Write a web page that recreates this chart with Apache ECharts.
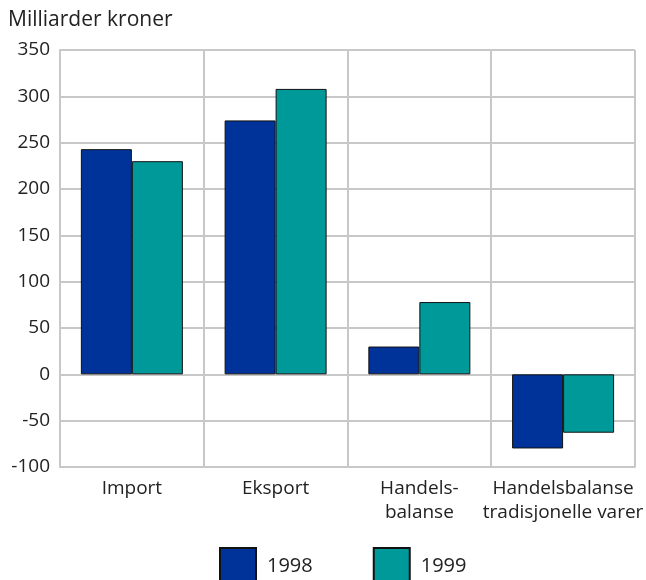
<!DOCTYPE html>
<html>
<head>
<meta charset="utf-8">
<script src="https://cdn.jsdelivr.net/npm/echarts@6/dist/echarts.min.js"></script>
<style>
html,body{margin:0;padding:0;background:#fff;}
#c{width:646px;height:580px;}
</style>
</head>
<body>
<div id="c"></div>
<script>
const categories = ['Import', 'Eksport', 'Handels-\nbalanse', 'Handelsbalanse\ntradisjonelle varer'];
const values1998 = [243, 274, 30, -80];
const values1999 = [230, 308, 78, -63];
const seriesNames = ['1998', '1999'];
const yTicks = { min: -100, max: 350, interval: 50 };
const yTitle = 'Milliarder kroner';

const font = '"Open Sans", "Noto Sans", sans-serif';
const gridColor = '#c8c8c8';
const chart = echarts.init(document.getElementById('c'), null, { renderer: 'canvas' });
chart.setOption({
  animation: false,
  backgroundColor: '#ffffff',
  textStyle: { fontFamily: font },
  graphic: [{
    type: 'text', left: 8, top: 10,
    style: { text: yTitle, font: '21px ' + font, fill: '#222' }
  }],
  grid: { left: 60, right: 8, top: 50, bottom: 113, containLabel: false },
  legend: {
    data: seriesNames,
    top: 547,
    left: 219,
    padding: 0,
    itemWidth: 36,
    itemHeight: 36,
    itemGap: 60,
    icon: 'rect',
    textStyle: { fontSize: 20, color: '#222', fontFamily: font, padding: [0, 0, 0, 6] },
    selectedMode: false
  },
  xAxis: {
    type: 'category',
    data: categories,
    axisLine: { show: true, onZero: false, lineStyle: { color: gridColor, width: 2 } },
    axisTick: { show: false },
    axisLabel: { interval: 0, fontSize: 19, color: '#222', fontFamily: font, margin: 10, lineHeight: 24 },
    splitLine: { show: true, interval: 0, showMinLine: true, showMaxLine: true, lineStyle: { color: gridColor, width: 2 } }
  },
  yAxis: {
    type: 'value',
    min: yTicks.min, max: yTicks.max, interval: yTicks.interval,
    axisLine: { show: true, lineStyle: { color: gridColor, width: 2 } },
    axisTick: { show: false },
    axisLabel: { fontSize: 19, color: '#222', fontFamily: font, margin: 10 },
    splitLine: { show: true, lineStyle: { color: gridColor, width: 2 } }
  },
  series: [
    {
      name: seriesNames[0], type: 'bar', data: values1998,
      barWidth: 51, barGap: '0%',
      itemStyle: { color: '#003399', borderColor: '#111', borderWidth: 1 }
    },
    {
      name: seriesNames[1], type: 'bar', data: values1999,
      barWidth: 51, barGap: '0%',
      itemStyle: { color: '#009999', borderColor: '#111', borderWidth: 1 }
    }
  ]
});
</script>
</body>
</html>
